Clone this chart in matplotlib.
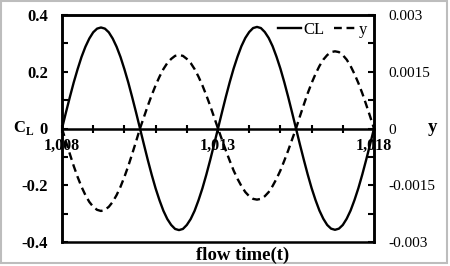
import matplotlib.pyplot as plt
from matplotlib.patches import Rectangle
from matplotlib.ticker import MultipleLocator, FixedLocator, FuncFormatter

plt.rcParams['font.family'] = ['Liberation Serif', 'DejaVu Serif']
plt.rcParams['axes.unicode_minus'] = False
plt.rcParams['mathtext.fontset'] = 'custom'
plt.rcParams['mathtext.bf'] = 'Liberation Serif:bold'
plt.rcParams['mathtext.rm'] = 'Liberation Serif'

# flow time, sampled every 0.125
t = [1008.000, 1008.125, 1008.250, 1008.375, 1008.500, 1008.625, 1008.750, 1008.875,
     1009.000, 1009.125, 1009.250, 1009.375, 1009.500, 1009.625, 1009.750, 1009.875,
     1010.000, 1010.125, 1010.250, 1010.375, 1010.500, 1010.625, 1010.750, 1010.875,
     1011.000, 1011.125, 1011.250, 1011.375, 1011.500, 1011.625, 1011.750, 1011.875,
     1012.000, 1012.125, 1012.250, 1012.375, 1012.500, 1012.625, 1012.750, 1012.875,
     1013.000, 1013.125, 1013.250, 1013.375, 1013.500, 1013.625, 1013.750, 1013.875,
     1014.000, 1014.125, 1014.250, 1014.375, 1014.500, 1014.625, 1014.750, 1014.875,
     1015.000, 1015.125, 1015.250, 1015.375, 1015.500, 1015.625, 1015.750, 1015.875,
     1016.000, 1016.125, 1016.250, 1016.375, 1016.500, 1016.625, 1016.750, 1016.875,
     1017.000, 1017.125, 1017.250, 1017.375, 1017.500, 1017.625, 1017.750, 1017.875,
     1018.000]

# lift coefficient (left axis)
cl = [0.000, 0.056, 0.110, 0.162, 0.209, 0.252, 0.288, 0.317,
      0.339, 0.352, 0.356, 0.352, 0.339, 0.317, 0.288, 0.252,
      0.209, 0.162, 0.110, 0.056, 0.000, -0.056, -0.111, -0.163,
      -0.211, -0.253, -0.290, -0.319, -0.340, -0.354, -0.358, -0.354,
      -0.340, -0.319, -0.290, -0.253, -0.211, -0.163, -0.111, -0.056,
      0.000, 0.056, 0.111, 0.163, 0.211, 0.253, 0.290, 0.319,
      0.340, 0.354, 0.358, 0.354, 0.340, 0.319, 0.290, 0.253,
      0.211, 0.163, 0.111, 0.056, 0.000, -0.056, -0.110, -0.162,
      -0.210, -0.252, -0.289, -0.318, -0.340, -0.353, -0.357, -0.353,
      -0.340, -0.318, -0.289, -0.252, -0.210, -0.162, -0.110, -0.056,
      0.000]

# displacement y (right axis)
disp = [0.0, -0.00034, -0.00067, -0.00099, -0.00128, -0.00154, -0.00176, -0.00194,
        -0.00207, -0.00215, -0.00218, -0.00215, -0.00207, -0.00194, -0.00176, -0.00154,
        -0.00128, -0.00099, -0.00067, -0.00034, 0.0, 0.00030, 0.00060, 0.00088,
        0.00114, 0.00137, 0.00157, 0.00173, 0.00184, 0.00192, 0.00194, 0.00192,
        0.00184, 0.00173, 0.00157, 0.00137, 0.00114, 0.00088, 0.00060, 0.00030,
        0.0, -0.00029, -0.00058, -0.00085, -0.00111, -0.00133, -0.00152, -0.00168,
        -0.00179, -0.00186, -0.00188, -0.00186, -0.00179, -0.00168, -0.00152, -0.00133,
        -0.00111, -0.00085, -0.00058, -0.00029, 0.0, 0.00032, 0.00063, 0.00093,
        0.00120, 0.00144, 0.00165, 0.00182, 0.00194, 0.00202, 0.00204, 0.00202,
        0.00194, 0.00182, 0.00165, 0.00144, 0.00120, 0.00093, 0.00063, 0.00032,
        0.0]

x_labels = ['1,008', '1,013', '1,018']
x_label_pos = [1008, 1013, 1018]

fig = plt.figure(figsize=(4.5, 2.66), dpi=100)
ax = fig.add_axes([62 / 450, 1 - 242 / 266, 312 / 450, 227 / 266])
ax2 = ax.twinx()

l1, = ax.plot(t, cl, color='black', lw=1.7, label='CL')
l2, = ax2.plot(t, disp, color='black', lw=1.7, ls=(0, (3.3, 2.0)), label='y')

ax.set_xlim(1008, 1018)
ax.set_ylim(-0.4, 0.4)
ax2.set_ylim(-0.003, 0.003)

# x axis drawn through zero, frame kept by the twin axes
ax.spines['bottom'].set_position(('data', 0))
for s in ax.spines.values():
    s.set_linewidth(1.8)
for s in ax2.spines.values():
    s.set_linewidth(1.8)

ax.xaxis.set_major_locator(FixedLocator(x_label_pos))
ax.xaxis.set_major_formatter(FuncFormatter(lambda v, p: x_labels[x_label_pos.index(int(round(v)))]))
ax.xaxis.set_minor_locator(MultipleLocator(1))
ax.tick_params(axis='x', which='both', direction='inout', length=6, width=1.5,
               labelsize=11.5, pad=3.5)
for lab in ax.get_xticklabels():
    lab.set_fontweight('bold')

ax.yaxis.set_major_locator(MultipleLocator(0.2))
ax.yaxis.set_minor_locator(MultipleLocator(0.1))
ax.yaxis.set_major_formatter(FuncFormatter(lambda v, p: '%g' % round(v, 4)))
ax.tick_params(axis='y', which='both', direction='in', length=4, width=1.5,
               labelsize=12, pad=10)
for lab in ax.get_yticklabels():
    lab.set_fontweight('bold')

ax2.yaxis.set_major_locator(MultipleLocator(0.0015))
ax2.yaxis.set_minor_locator(MultipleLocator(0.00075))
ax2.yaxis.set_major_formatter(FuncFormatter(lambda v, p: '%g' % round(v, 6)))
ax2.tick_params(axis='y', which='both', direction='in', length=4, width=1.5,
                labelsize=11, pad=10)

fig.text(13 / 450, 1 - 128 / 266, r'$\mathbf{C}_\mathbf{L}$', fontsize=12,
         ha='left', va='center')
fig.text(432 / 450, 1 - 127 / 266, 'y', fontsize=13.5, fontweight='bold',
         ha='center', va='center')
fig.text(243 / 450, 1 - 255 / 266, 'flow time(t)', fontsize=13.5,
         fontweight='bold', ha='center', va='center')

ax2.legend([l1, l2], ['CL', 'y'], loc='upper right', bbox_to_anchor=(0.99, 0.985),
           ncol=2, frameon=False, fontsize=12, handlelength=1.4,
           handletextpad=0.1, columnspacing=0.6, borderaxespad=0.05,
           borderpad=0.15)

fig.patches.append(Rectangle((1 / 450, 3 / 266), 446 / 450, 262 / 266,
                             transform=fig.transFigure, fill=False,
                             edgecolor='#bdbdbd', lw=1.5))

fig.savefig('out.png', dpi=100)
